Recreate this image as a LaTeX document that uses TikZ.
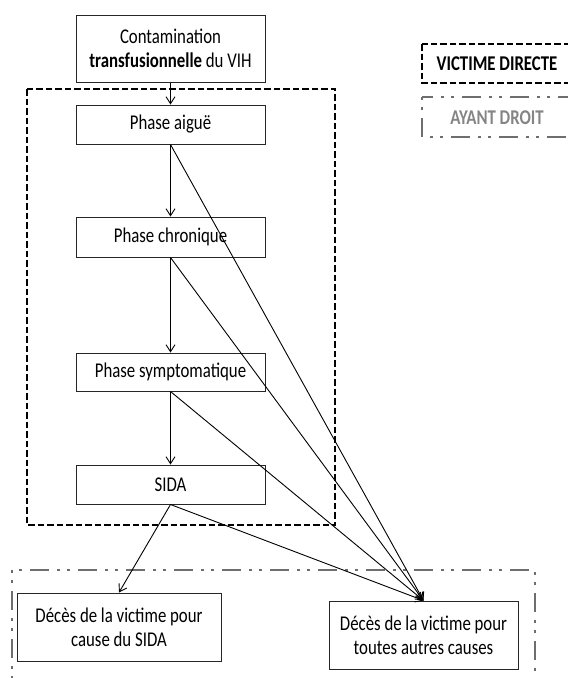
\documentclass[tikz,border=0pt]{standalone}
\usepackage{fontspec}
\setmainfont{Carlito}[FakeStretch=0.8]
\usetikzlibrary{arrows.meta}
\definecolor{ddgray}{HTML}{6E6E6E}
\definecolor{txgray}{HTML}{858585}
\tikzset{
  box/.style={draw=black!85, line width=1pt, inner sep=2pt, align=center,
    font=\fontsize{21}{24}\selectfont},
  conn/.style={line width=0.9pt, -{Straight Barb[length=7pt,width=9pt,line width=0.9pt]}},
  directe/.style={draw=black, line width=2.2pt, dash pattern=on 6.5pt off 3pt},
  ayant/.style={draw=ddgray, line width=2.4pt,
    dash pattern=on 3pt off 7pt on 3pt off 8pt on 19pt off 8pt},
  legtext/.style={font=\fontsize{21}{24}\selectfont\bfseries}
}
\begin{document}
\begin{tikzpicture}[x=1pt,y=-1pt]
\useasboundingbox (0,0) rectangle (568,678);
\begin{scope}
\clip (0,0) rectangle (568,678);
% frames
\draw[directe] (27,89) rectangle (335,525);
\draw[ayant] (12,570) rectangle (535,700);
% legend
\draw[directe] (422,44) rectangle (590,83);
\node[legtext] (legA) at (497,64) {VICTIME DIRECTE};
\draw[ayant] (422,97) rectangle (590,137);
\node[legtext, text=txgray] (legB) at (497,118) {AYANT DROIT};
\end{scope}
% nodes
\node[box, minimum width=189pt, minimum height=67pt] (top) at (170.5,48.5)
  {Contamination\\\textbf{transfusionnelle} du VIH};
\node[box, minimum width=189pt, minimum height=39pt] (aigue) at (170.5,124.5) {Phase aiguë};
\node[box, minimum width=189pt, minimum height=40pt] (chron) at (170.5,237) {Phase chronique};
\node[box, minimum width=189pt, minimum height=38pt] (sympt) at (170.5,372) {Phase symptomatique};
\node[box, minimum width=189pt, minimum height=39pt] (sida) at (170.5,484.5) {SIDA};
\node[box, minimum width=204pt, minimum height=68pt] (dleft) at (119,627)
  {Décès de la victime pour\\cause du SIDA};
\node[box, minimum width=189pt, minimum height=68pt] (dright) at (423.5,635)
  {Décès de la victime pour\\toutes autres causes};
% connectors
\draw[conn] (top.south) -- (aigue.north);
\draw[conn] (aigue.south) -- (chron.north);
\draw[conn] (chron.south) -- (sympt.north);
\draw[conn] (sympt.south) -- (sida.north);
\draw[conn] (sida.south) -- (dleft.north);
\draw[conn] (aigue.south) -- (dright.north);
\draw[conn] (chron.south) -- (dright.north);
\draw[conn] (sympt.south) -- (dright.north);
\draw[conn] (sida.south) -- (dright.north);
\end{tikzpicture}
\end{document}
